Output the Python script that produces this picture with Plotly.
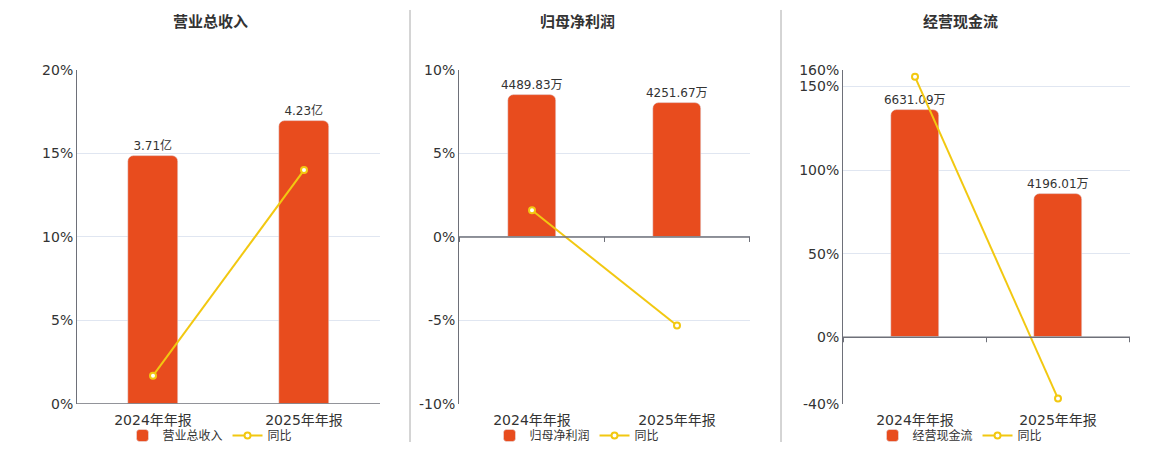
import plotly.graph_objects as go

# data
periods = ['2024年年报', '2025年年报']
panel_titles = ['营业总收入', '归母净利润', '经营现金流']
revenue = [3.71, 4.23]            # 亿
revenue_labels = ['3.71亿', '4.23亿']
revenue_yoy = [1.7, 14.0]
net_profit = [4489.83, 4251.67]   # 万
net_profit_labels = ['4489.83万', '4251.67万']
net_profit_yoy = [1.6, -5.3]
cash_flow = [6631.09, 4196.01]    # 万
cash_flow_labels = ['6631.09万', '4196.01万']
cash_flow_yoy = [155.8, -36.7]

BAR = '#E84C1E'
LINE = '#F2C811'
FONT = 'DejaVu Sans, Noto Sans CJK SC'
W, H = 1160, 450

panels = [
    dict(bars=revenue, labels=revenue_labels, yoy=revenue_yoy,
         xdom=(77, 380), bar_range=[0, 5], pct_range=[0, 20],
         pct_ticks=[0, 5, 10, 15, 20], center=210),
    dict(bars=net_profit, labels=net_profit_labels, yoy=net_profit_yoy,
         xdom=(459, 750), bar_range=[-5285, 5285], pct_range=[-10, 10],
         pct_ticks=[-10, -5, 0, 5, 10], center=577),
    dict(bars=cash_flow, labels=cash_flow_labels, yoy=cash_flow_yoy,
         xdom=(843, 1130), bar_range=[-1950, 7800], pct_range=[-40, 160],
         pct_ticks=[-40, 0, 50, 100, 150, 160], center=960),
]

fig = go.Figure()
layout = {}
shapes = []
annotations = []
ydom = [1 - 405 / H, 1 - 70 / H]

for i, p in enumerate(panels):
    n = i + 1
    xa = 'x' if n == 1 else f'x{n}'
    yb = f'y{2 * n - 1}' if n > 1 else 'y'
    yp = f'y{2 * n}'
    leg = 'legend' if n == 1 else f'legend{n}'

    fig.add_trace(go.Bar(x=periods, y=p['bars'], text=p['labels'],
                         textposition='outside', cliponaxis=False,
                         constraintext='none',
                         textfont=dict(size=12, color='#333'),
                         marker=dict(color=BAR, cornerradius=6),
                         width=0.33, name=panel_titles[i],
                         xaxis=xa, yaxis=yb, legend=leg))
    fig.add_trace(go.Scatter(x=periods, y=p['yoy'], mode='lines+markers',
                             line=dict(color=LINE, width=2),
                             marker=dict(size=6, color='white',
                                         line=dict(color=LINE, width=2)),
                             name='同比', cliponaxis=False,
                             xaxis=xa, yaxis=yp, legend=leg))

    xkey = 'xaxis' if n == 1 else f'xaxis{n}'
    ybkey = 'yaxis' if n == 1 else f'yaxis{2 * n - 1}'
    ypkey = f'yaxis{2 * n}'
    layout[xkey] = dict(domain=[p['xdom'][0] / W, p['xdom'][1] / W],
                        anchor=yb, showgrid=False, showline=False,
                        ticks='', tickfont=dict(size=14, color='#333'),
                        ticklabelstandoff=6,
                        automargin=False, fixedrange=True)
    layout[ybkey] = dict(domain=ydom, anchor=xa, range=p['bar_range'],
                         visible=False, automargin=False, fixedrange=True)
    layout[ypkey] = dict(domain=ydom, anchor=xa, overlaying=yb, side='left',
                         range=p['pct_range'], tickvals=p['pct_ticks'],
                         ticktext=[f'{v}%' for v in p['pct_ticks']],
                         showgrid=True, gridcolor='#E0E6F1',
                         showline=True, linecolor='#6E7079', linewidth=1,
                         zeroline=False, ticks='',
                         tickfont=dict(size=14, color='#333'),
                         automargin=False, fixedrange=True)
    layout[leg] = dict(orientation='h', x=p['center'] / W, xanchor='center',
                       y=1 - 436 / H, yanchor='middle',
                       font=dict(size=12, color='#333'),
                       bgcolor='rgba(0,0,0,0)', itemwidth=30,
                       tracegroupgap=0)

    # zero axis line and boundary ticks
    shapes.append(dict(type='line', xref=f'{xa} domain', yref=yp,
                       x0=0, x1=1, y0=0, y1=0,
                       line=dict(color='#6E7079', width=1.5)))
    for b in [-0.5, 0.5, 1.5]:
        shapes.append(dict(type='line', xref=xa, yref=yp, ysizemode='pixel',
                           yanchor=0, x0=b, x1=b, y0=0, y1=-5,
                           line=dict(color='#6E7079', width=1)))

    annotations.append(dict(text=f'<b>{panel_titles[i]}</b>', xref='paper',
                            yref='paper', x=p['center'] / W, y=1 - 22 / H,
                            showarrow=False, font=dict(size=15, color='#333'),
                            xanchor='center', yanchor='middle'))

# panel separators
for sx in [410, 781]:
    shapes.append(dict(type='line', xref='paper', yref='paper',
                       x0=sx / W, x1=sx / W, y0=1 - 443 / H, y1=1 - 10 / H,
                       line=dict(color='#AAAAAA', width=1)))

fig.update_layout(**layout)
fig.update_layout(width=W, height=H, margin=dict(l=0, r=0, t=0, b=0),
                  plot_bgcolor='white', paper_bgcolor='white',
                  font=dict(family=FONT, color='#333'),
                  shapes=shapes, annotations=annotations,
                  bargap=0, showlegend=True)

fig.write_html('out.html', config={'displayModeBar': False},
               post_script="document.body.style.margin='0';"
                           "document.body.style.overflow='hidden';")
